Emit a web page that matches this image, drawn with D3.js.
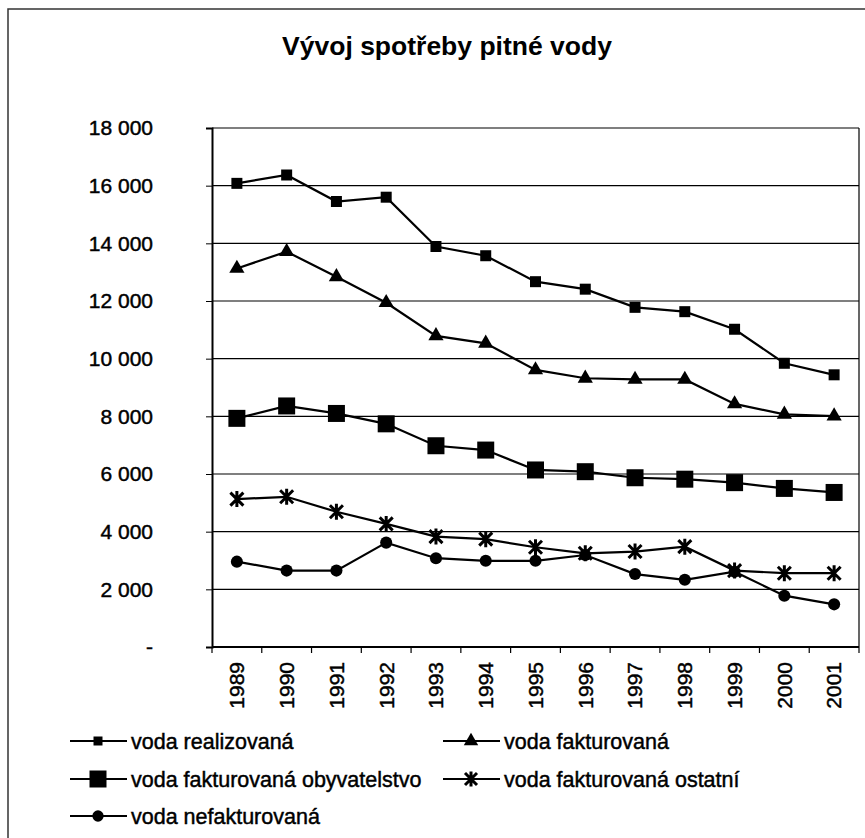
<!DOCTYPE html>
<html>
<head>
<meta charset="utf-8">
<script src="https://cdn.jsdelivr.net/npm/d3@7"></script>
<style>
  body { margin: 0; background: #fff; }
  text { font-family: "Liberation Sans", Arial, sans-serif; fill: #000; }
  .heavy { stroke: #000; stroke-width: 0.45px; }
</style>
</head>
<body>
<script>
// data
var years = ["1989","1990","1991","1992","1993","1994","1995","1996","1997","1998","1999","2000","2001"]

var realizovana   = [16080, 16370, 15450, 15600, 13890, 13570, 12670, 12410, 11780, 11630, 11020, 9840, 9440]
var fakturovana   = [13130, 13710, 12840, 11940, 10790, 10530, 9610, 9320, 9280, 9280, 8430, 8070, 8010]
var obyvatelstvo  = [7930, 8360, 8100, 7740, 6980, 6830, 6140, 6080, 5870, 5820, 5700, 5500, 5360]
var ostatni       = [5130, 5210, 4690, 4270, 3830, 3740, 3460, 3250, 3310, 3480, 2650, 2560, 2560]
var nefakturovana = [2960, 2650, 2650, 3620, 3080, 2990, 2990, 3190, 2530, 2330, 2610, 1780, 1480]

var seriesNames = ["voda realizovaná", "voda fakturovaná", "voda fakturovaná obyvatelstvo",
                   "voda fakturovaná ostatní", "voda nefakturovaná"]
var yTicks = [0, 2000, 4000, 6000, 8000, 10000, 12000, 14000, 16000, 18000]

var main = function() {
  var width = 865, height = 838

  var svg = d3.select("body").append("svg")
              .attr("width", width)
              .attr("height", height)

  // outer frame (runs off the right and bottom)
  svg.append("rect")
     .attr("x", 8).attr("y", 9)
     .attr("width", 900).attr("height", 900)
     .attr("fill", "none")
     .attr("stroke", "#333")
     .attr("stroke-width", 1.5)

  svg.append("text")
     .attr("x", 447).attr("y", 55)
     .attr("text-anchor", "middle")
     .attr("font-size", "26.5px")
     .attr("font-weight", "bold")
     .text("Vývoj spotřeby pitné vody")

  var x = d3.scaleBand().domain(years).range([212, 859])
  var y = d3.scaleLinear().domain([0, 18000]).range([647, 128])

  // gridlines
  svg.append("g").selectAll("line")
     .data(yTicks.slice(1))
     .enter().append("line")
       .attr("x1", 212).attr("x2", 859)
       .attr("y1", function(d) {return y(d)})
       .attr("y2", function(d) {return y(d)})
       .attr("stroke", "#000")
       .attr("stroke-width", 1.2)

  // right border of plot area
  svg.append("line")
     .attr("x1", 859).attr("x2", 859)
     .attr("y1", y(18000)).attr("y2", y(0))
     .attr("stroke", "#000").attr("stroke-width", 1.2)

  var fmt = function(d) {
    if (d == 0) return "-"
    return d3.format(",")(d).replace(",", " ")
  }

  var yAxis = svg.append("g")
     .attr("transform", "translate(212,0)")
     .call(d3.axisLeft(y).tickValues(yTicks).tickSize(6).tickPadding(53).tickFormat(fmt))
  yAxis.selectAll("text").attr("font-size", "21px").attr("font-family", null).attr("class", "heavy")
  yAxis.select(".domain").attr("stroke-width", 2)

  var xAxis = svg.append("g")
     .attr("transform", "translate(0," + y(0) + ")")
     .call(d3.axisBottom(x).tickSize(0).tickPadding(0))
  xAxis.select(".domain").attr("stroke-width", 2).attr("d", "M212,0H859")
  xAxis.selectAll("text")
       .attr("font-size", "21px")
       .attr("font-family", null)
       .attr("class", "heavy")
       .attr("text-anchor", "end")
       .attr("transform", "rotate(-90)")
       .attr("x", -15)
       .attr("y", 0)
       .attr("dy", "0.35em")

  // category boundary ticks
  svg.append("g").selectAll("line")
     .data(years.concat(["end"]))
     .enter().append("line")
       .attr("x1", function(d) {return d == "end" ? 859 : x(d)})
       .attr("x2", function(d) {return d == "end" ? 859 : x(d)})
       .attr("y1", y(0)).attr("y2", y(0) + 6)
       .attr("stroke", "#000").attr("stroke-width", 1.2)

  var star = function(s) {
    return "M" + (-s) + "," + (-s) + "L" + s + "," + s +
           "M" + (-s) + "," + s + "L" + s + "," + (-s) +
           "M0," + (-s - 1.5) + "L0," + (s + 1.5)
  }

  var markers = [
    {shape: d3.symbolSquare,   size: 121, legend: 81},
    {shape: d3.symbolTriangle, size: 100, legend: 90},
    {shape: d3.symbolSquare,   size: 289, legend: 289},
    {shape: "star",            size: 6.5, legend: 6},
    {shape: d3.symbolCircle,   size: 115, legend: 100}
  ]

  var allSeries = [realizovana, fakturovana, obyvatelstvo, ostatni, nefakturovana]

  var drawMarker = function(g, m, size) {
    if (m.shape == "star") {
      g.append("path").attr("d", star(size))
       .attr("fill", "none").attr("stroke", "#000").attr("stroke-width", 3)
    } else {
      g.append("path").attr("d", d3.symbol().type(m.shape).size(size)())
       .attr("fill", "#000")
    }
  }

  var line = d3.line()
               .x(function(d, i) {return x(years[i]) + x.bandwidth() / 2})
               .y(function(d) {return y(d)})

  allSeries.forEach(function(vals, k) {
    svg.append("path")
       .datum(vals)
       .attr("d", line)
       .attr("fill", "none")
       .attr("stroke", "#000")
       .attr("stroke-width", 2.2)
    vals.forEach(function(v, i) {
      var g = svg.append("g")
                 .attr("transform", "translate(" + (x(years[i]) + x.bandwidth() / 2) + "," + y(v) + ")")
      drawMarker(g, markers[k], markers[k].size)
    })
  })

  // legend, two columns
  var legendPos = [[70, 741], [443, 741], [70, 779], [443, 779], [70, 816]]
  seriesNames.forEach(function(name, k) {
    var p = legendPos[k]
    var g = svg.append("g").attr("transform", "translate(" + p[0] + "," + p[1] + ")")
    g.append("line").attr("x1", 0).attr("x2", 57).attr("y1", 0).attr("y2", 0)
     .attr("stroke", "#000").attr("stroke-width", 2.2)
    var mg = g.append("g").attr("transform", "translate(28,0)")
    drawMarker(mg, markers[k], markers[k].legend)
    g.append("text")
     .attr("class", "heavy")
     .attr("x", 61).attr("y", 0).attr("dy", "0.35em")
     .attr("font-size", "21.5px")
     .text(name)
  })
}

main()
</script>
</body>
</html>
